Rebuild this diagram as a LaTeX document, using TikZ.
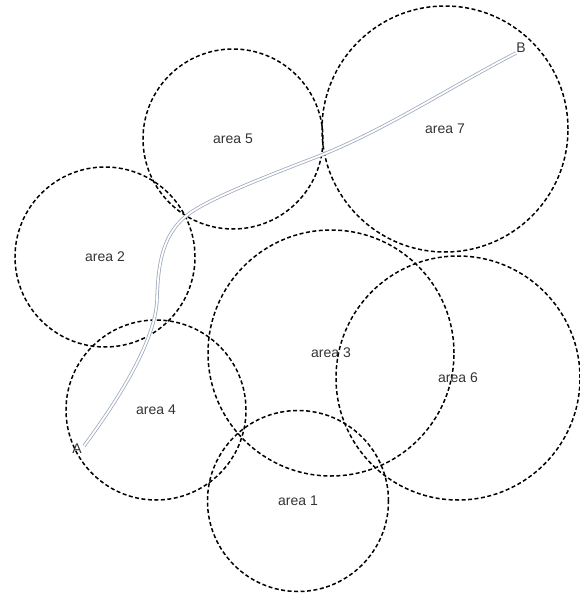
\documentclass[tikz,border=0pt]{standalone}
\usepackage{fontspec}
\setmainfont{Liberation Sans}
\begin{document}
\begin{tikzpicture}[x=1pt,y=-1pt,
  zone/.style={circle, draw=black, line width=1.5pt, dash pattern=on 4pt off 2.5pt,
    inner sep=0pt, text=black!80, font=\fontsize{14}{16}\selectfont},
  endpt/.style={inner sep=0pt, text=black!80, font=\fontsize{14}{16}\selectfont},
  route/.style={draw={rgb,255:red,160;green,170;blue,190}, line width=0.8pt,
    double=white, double distance=1.8pt}]
\useasboundingbox (0,0) rectangle (580,597);
\node[zone, minimum size=180pt] (a5) at (233,139) {area 5};
\node[zone, minimum size=246pt] (a7) at (445,129) {area 7};
\node[zone, minimum size=180pt] (a2) at (105,257) {area 2};
\node[zone, minimum size=180pt] (a4) at (156,410) {area 4};
\node[zone, minimum size=246pt] (a3) at (331,353) {area 3};
\node[zone, minimum size=244pt] (a6) at (458,378) {area 6};
\node[zone, minimum size=181pt] (a1) at (298,501) {area 1};
\node[endpt] (A) at (77,449) {A};
\node[endpt] (B) at (521,48) {B};
\coordinate (p0) at (84,446);
\coordinate (p1) at (157,300);
\coordinate (p2) at (190,213);
\coordinate (p3) at (324,154);
\coordinate (p4) at (516,53);
\draw[route] (p0) .. controls (112,408) and (155,345) .. (p1)
  .. controls (158,262) and (163,232) .. (p2)
  .. controls (217,194) and (294,166) .. (p3)
  .. controls (388,128) and (452,86) .. (p4);
\end{tikzpicture}
\end{document}
